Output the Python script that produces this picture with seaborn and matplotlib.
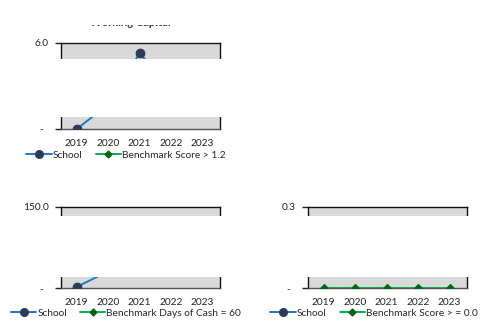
import matplotlib
matplotlib.use("Agg")
import matplotlib.pyplot as plt
from matplotlib.lines import Line2D
from matplotlib.patches import Rectangle
import seaborn as sns
import pandas as pd

years = ["2019", "2020", "2021", "2022", "2023"]
wc_school = [0.0, 1.7, 5.3, 2.7, 2.5]
wc_benchmark = [1.2, 1.2, 1.2, 1.2, 1.2]
cash_school = [2.0, 31.0, 60.0, 80.0, 70.0]
cash_benchmark = [60, 60, 60, 60, 60]
debt_school = [0.10, 0.12, 0.15, 0.14, 0.13]
debt_benchmark = [0.0, 0.0, 0.0, 0.0, 0.0]

SCHOOL_LINE = "#1F78C8"
SCHOOL_MARK = "#2E3B55"
BENCH_LINE = "#00B050"
BENCH_MARK = "#006414"
W, H = 498, 328

sns.set_style("white")
plt.rcParams["font.family"] = ["Lato", "DejaVu Sans"]
plt.rcParams["font.size"] = 7.3

fig = plt.figure(figsize=(W / 100, H / 100), dpi=100)


def px_axes(left, top, right, bottom):
    return fig.add_axes([left / W, 1 - bottom / H, (right - left) / W, (bottom - top) / H])


def draw_panel(ax, school, bench, ymax, top_label, bench_label, legend_xy):
    df = pd.DataFrame({"year": years, "school": school, "bench": bench})
    sns.lineplot(data=df, x="year", y="bench", ax=ax, color=BENCH_LINE, lw=1.4,
                 marker="D", markersize=3.8, markerfacecolor=BENCH_MARK,
                 markeredgecolor=BENCH_MARK, markeredgewidth=0.8, zorder=3)
    sns.lineplot(data=df, x="year", y="school", ax=ax, color=SCHOOL_LINE, lw=1.4,
                 marker="o", markersize=6.3, markerfacecolor=SCHOOL_MARK,
                 markeredgecolor=SCHOOL_MARK, zorder=4)
    ax.set_facecolor("#D9D9D9")
    ax.set_xlim(-0.5, 4.55)
    ax.set_ylim(0, ymax)
    ax.set_yticks([0, ymax])
    ax.set_yticklabels(["-  ", top_label])
    ax.set_xlabel("")
    ax.set_ylabel("")
    ax.tick_params(axis="x", length=0, pad=7, colors="#222222")
    ax.tick_params(axis="y", length=4, width=1, pad=5, colors="#222222",
                   direction="out", left=True)
    for sp in ax.spines.values():
        sp.set_visible(True)
        sp.set_color("#111111")
        sp.set_linewidth(1.0)
    ax.spines["bottom"].set_color("#555555")
    handles = [
        Line2D([], [], color=SCHOOL_LINE, lw=1.4, marker="o", markersize=5.5,
               markerfacecolor=SCHOOL_MARK, markeredgecolor=SCHOOL_MARK),
        Line2D([], [], color=BENCH_LINE, lw=1.4, marker="D", markersize=3.5,
               markerfacecolor=BENCH_MARK, markeredgecolor=BENCH_MARK),
    ]
    fig.legend(handles, ["School", bench_label], loc="center",
               bbox_to_anchor=(legend_xy[0] / W, 1 - legend_xy[1] / H),
               ncol=2, frameon=False, handlelength=2.5, handletextpad=0.1,
               columnspacing=1.3, fontsize=7.3)


ax1 = px_axes(61, 43, 220, 129)
draw_panel(ax1, wc_school, wc_benchmark, 6.0, "6.0", "Benchmark Score > 1.2", (126, 155))
fig.text(130 / W, 1 - 23 / H, "Working Capital", ha="center", va="center",
         fontsize=8, fontweight="bold", color="#333333")

ax2 = px_axes(61, 207, 220, 288)
draw_panel(ax2, cash_school, cash_benchmark, 150.0, "150.0",
           "Benchmark Days of Cash = 60", (126, 313))

ax3 = px_axes(308, 207, 467, 288)
draw_panel(ax3, debt_school, debt_benchmark, 0.3, "0.3",
           "Benchmark Score > = 0.0", (374, 313))

# white blocks that cover parts of the original picture
for top, bottom in [(0, 24.5), (59.5, 117.5), (215.5, 276.5)]:
    fig.add_artist(Rectangle((0, 1 - bottom / H), 1, (bottom - top) / H,
                             transform=fig.transFigure, facecolor="white",
                             edgecolor="none", zorder=20))

fig.savefig("out.png", dpi=100)
